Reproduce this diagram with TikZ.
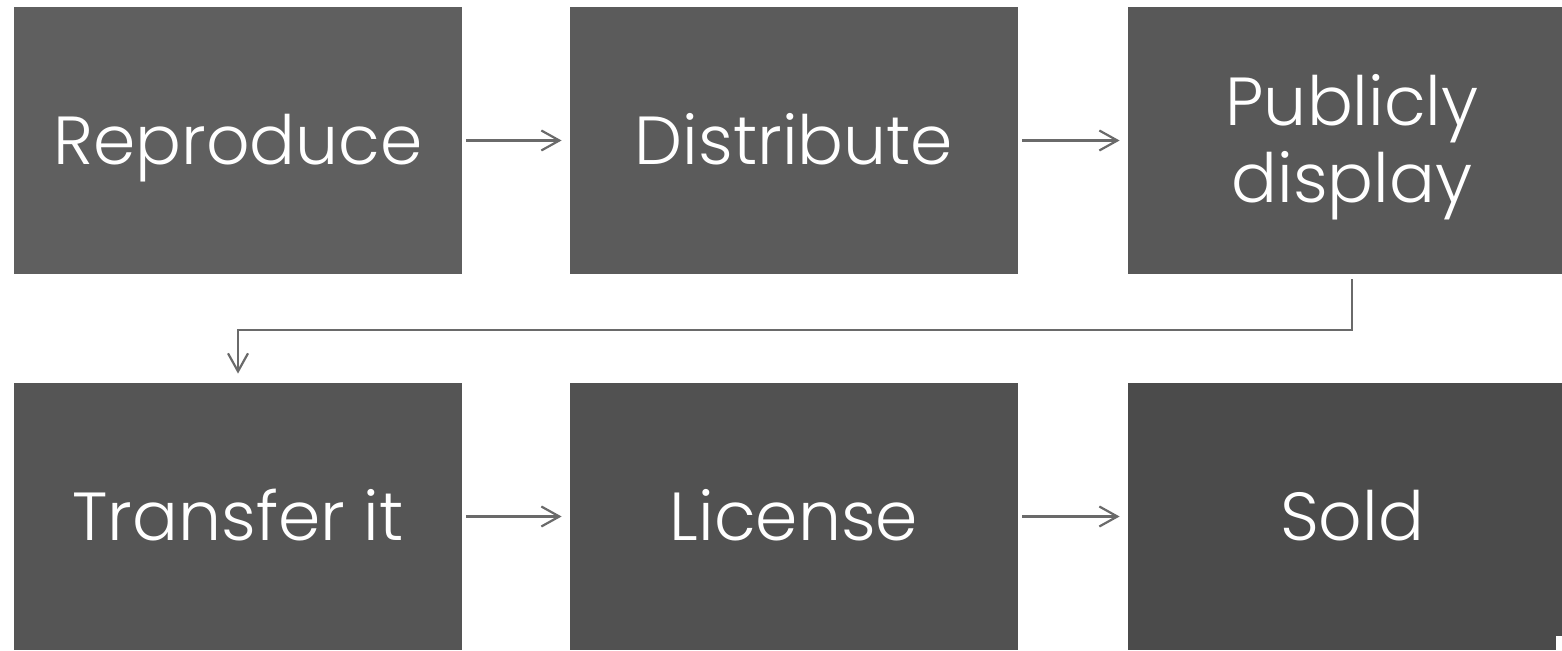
\documentclass[tikz,border=0pt]{standalone}
\usepackage{fontspec}
\setmainfont{Poppins}[UprightFont=* Light]
\usetikzlibrary{arrows.meta}

\definecolor{boxA}{HTML}{5F5F5F}
\definecolor{boxB}{HTML}{5B5B5B}
\definecolor{boxC}{HTML}{585858}
\definecolor{boxD}{HTML}{555555}
\definecolor{boxE}{HTML}{515151}
\definecolor{boxF}{HTML}{4B4B4B}
\definecolor{flowline}{HTML}{6A6A6A}

\tikzset{
  stagebox/.style={rectangle, draw=none, minimum width=224pt, minimum height=133.5pt,
    inner sep=0pt, text=white, align=center,
    text height=24pt, text depth=0pt,
    font=\fontsize{34}{38.5}\selectfont},
  % two stacked lines: cap top of the first to the baseline of the second
  twolines/.style={text height=62.5pt, text depth=0pt},
  flow/.style={draw=flowline, line width=1.1pt,
    -{Straight Barb[length=9pt,width=10pt,line width=1.1pt]}}
}

\begin{document}
\begin{tikzpicture}[x=0.5pt, y=-0.5pt]
  \useasboundingbox (0,0) rectangle (1562,651);
  \clip (0,0) rectangle (1562,651);

  % first row
  \node[stagebox, fill=boxA] (rep)  at (238,140.5)  {Reproduce};
  \node[stagebox, fill=boxB] (dist) at (794,140.5)  {Distribute};
  \node[stagebox, twolines, fill=boxC] (pub) at (1352,140.5) {Publicly\\display};

  % second row
  \node[stagebox, fill=boxD] (tran) at (238,516.5)  {Transfer it};
  \node[stagebox, fill=boxE] (lic)  at (794,516.5)  {License};
  \node[stagebox, fill=boxF] (sold) at (1352,516.5) {Sold};

  % small white notch at the lower right corner
  \fill[white] (1556,636) rectangle (1562,651);

  % horizontal connectors
  \draw[flow, shorten <=2pt, shorten >=4pt] (rep)  -- (dist);
  \draw[flow, shorten <=2pt, shorten >=4pt] (dist) -- (pub);
  \draw[flow, shorten <=2pt, shorten >=4pt] (tran) -- (lic);
  \draw[flow, shorten <=2pt, shorten >=4pt] (lic)  -- (sold);

  % return connector from the end of row one to the start of row two
  \coordinate (bend) at (0,330);
  \draw[flow, shorten <=2.5pt, shorten >=4.5pt]
    (pub.south) -- (pub.south |- bend) -- (tran.north |- bend) -- (tran.north);
\end{tikzpicture}
\end{document}
